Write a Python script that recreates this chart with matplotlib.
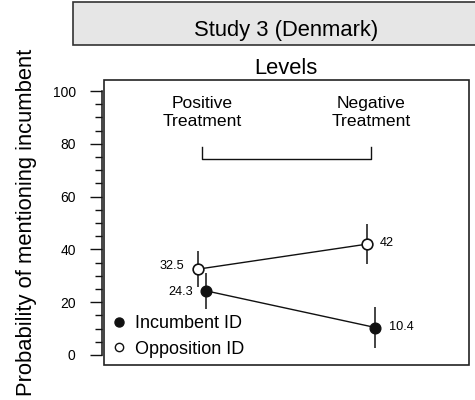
import matplotlib
matplotlib.use("Agg")
import matplotlib.pyplot as plt
from matplotlib.patches import Rectangle
from matplotlib.lines import Line2D
from matplotlib.ticker import MultipleLocator

# ---- data ----
levels = ["Positive\nTreatment", "Negative\nTreatment"]
incumbent = [24.3, 10.4]
incumbent_lo = [17.4, 2.5]
incumbent_hi = [31.2, 18.0]
opposition = [32.5, 42.0]
opposition_lo = [25.7, 34.4]
opposition_hi = [39.5, 49.6]
incumbent_labels = ["24.3", "10.4"]
opposition_labels = ["32.5", "42"]
yticks = [0, 20, 40, 60, 80, 100]
series_names = ["Incumbent ID", "Opposition ID"]
strip_title = "Study 3 (Denmark)"
axis_title = "Levels"
ylabel = "Probability of mentioning incumbent"

plt.rcParams['font.family'] = ['Liberation Sans', 'DejaVu Sans']

fig = plt.figure(figsize=(4.75, 4.0), dpi=100)
W, H = 475, 400
ax = fig.add_axes([104 / W, 1 - 365 / H, (469 - 104) / W, (365 - 80) / H])

xpos = [1, 2]
dodge = 0.025
x_inc = [x + dodge for x in xpos]
x_opp = [x - dodge for x in xpos]
dark = "#111111"

# error bars
for xs, lo, hi in ((x_opp, opposition_lo, opposition_hi), (x_inc, incumbent_lo, incumbent_hi)):
    for x, l, h in zip(xs, lo, hi):
        ax.plot([x, x], [l, h], color=dark, lw=1.1, zorder=2, solid_capstyle='butt')

# lines
ax.plot(x_opp, opposition, color=dark, lw=1.0, zorder=2)
ax.plot(x_inc, incumbent, color=dark, lw=1.0, zorder=2)
# markers
ax.plot(x_opp, opposition, 'o', ms=7.7, mfc='white', mec=dark, mew=1.2, zorder=3, ls='none')
ax.plot(x_inc, incumbent, 'o', ms=7.7, mfc=dark, mec=dark, mew=1.0, zorder=3, ls='none')

# value labels
vfs = 9.2
ax.annotate(opposition_labels[0], (x_opp[0], opposition[0]), xytext=(-9.5, 2.5),
            textcoords='offset points', ha='right', va='center', fontsize=vfs)
ax.annotate(incumbent_labels[0], (x_inc[0], incumbent[0]), xytext=(-9.5, -0.5),
            textcoords='offset points', ha='right', va='center', fontsize=vfs)
ax.annotate(opposition_labels[1], (x_opp[1], opposition[1]), xytext=(9.5, 0.5),
            textcoords='offset points', ha='left', va='center', fontsize=vfs)
ax.annotate(incumbent_labels[1], (x_inc[1], incumbent[1]), xytext=(9.5, 0.5),
            textcoords='offset points', ha='left', va='center', fontsize=vfs)

# level labels and bracket
for x, lab in zip(xpos, levels):
    l1, l2 = lab.split("\n")
    ax.text(x, 93.6, l1, ha='center', va='baseline', fontsize=12.6)
    ax.text(x, 86.7, l2, ha='center', va='baseline', fontsize=12.6)
ax.plot([xpos[0], xpos[0], xpos[1], xpos[1]], [78.8, 74.2, 74.2, 78.8], color=dark, lw=1.0)

# axes
ax.set_xlim(0.422, 2.578)
ax.set_ylim(-3.8, 104.2)
ax.set_xticks([])
ax.set_yticks(yticks)
ax.set_yticklabels([str(t) for t in yticks], fontsize=12.8)
ax.yaxis.set_minor_locator(MultipleLocator(5))
ax.tick_params(axis='y', which='major', length=8.6, width=1.0, pad=10, color=dark)
ax.tick_params(axis='y', which='minor', length=5.0, width=1.0, color=dark)
for s in ('top', 'right', 'bottom'):
    ax.spines[s].set_visible(False)
ax.spines['left'].set_position(('outward', 1.8))
ax.spines['left'].set_bounds(0, 100)
ax.spines['left'].set_linewidth(1.1)
ax.spines['left'].set_color(dark)
ax.add_patch(Rectangle((0, 0), 1, 1, transform=ax.transAxes, fill=False,
                       lw=1.2, ec="#222222", clip_on=False, zorder=5))

# legend
h_inc = Line2D([], [], marker='o', ls='none', ms=6.5, mfc=dark, mec=dark)
h_opp = Line2D([], [], marker='o', ls='none', ms=6.0, mfc='white', mec=dark, mew=1.0)
ax.legend([h_inc, h_opp], series_names, loc='lower left', bbox_to_anchor=(0.016, 0.026),
          frameon=False, fontsize=13.0, handlelength=1.0, handletextpad=0.42,
          labelspacing=0.45, borderpad=0.0, borderaxespad=0.0)

# strip and titles
fig.patches.append(Rectangle((73 / W, 1 - 45 / H), 1.2, 43 / H, transform=fig.transFigure,
                             fc="#e6e6e6", ec="#333333", lw=1.2, zorder=0))
fig.text(286 / W, 1 - 36 / H, strip_title, ha='center', va='baseline', fontsize=15.8)
fig.text(286 / W, 1 - 74 / H, axis_title, ha='center', va='baseline', fontsize=15.8)
fig.text(27 / W, 1 - 222.5 / H, ylabel, rotation=90, ha='center', va='center', fontsize=15.8)

fig.savefig("out.png", dpi=100)
